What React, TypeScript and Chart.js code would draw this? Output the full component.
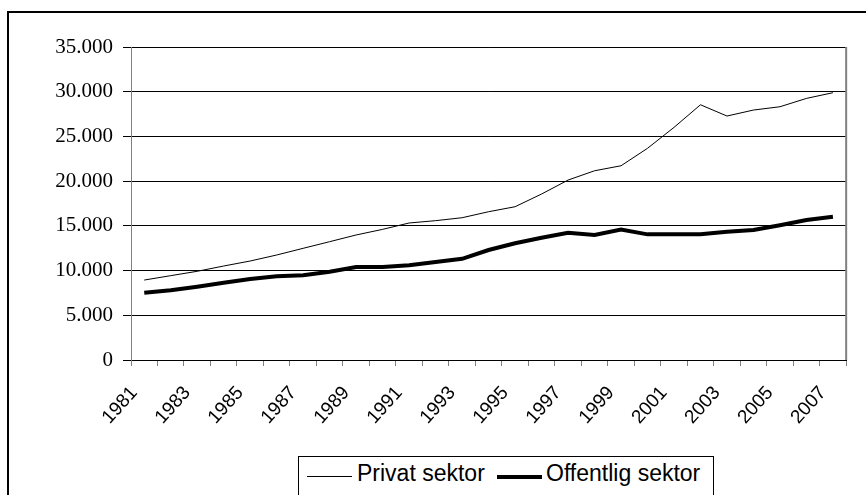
import { useEffect, useRef } from 'react';
import { Chart, registerables } from 'chart.js';

Chart.register(...registerables);

const years = [
  '1981', '1982', '1983', '1984', '1985', '1986', '1987', '1988', '1989', '1990',
  '1991', '1992', '1993', '1994', '1995', '1996', '1997', '1998', '1999', '2000',
  '2001', '2002', '2003', '2004', '2005', '2006', '2007',
];

const privatSektor = [
  8940, 9430, 9920, 10510, 11070, 11740, 12490, 13230, 13980, 14610,
  15320, 15580, 15910, 16580, 17140, 18560, 20120, 21160, 21720, 23670,
  26010, 28540, 27280, 27950, 28320, 29250, 29890,
];

const offentligSektor = [
  7530, 7790, 8200, 8640, 9060, 9360, 9470, 9870, 10400, 10400,
  10590, 10960, 11310, 12300, 13050, 13670, 14230, 13980, 14580, 14050,
  14050, 14050, 14340, 14530, 15060, 15650, 16020,
];

const yTickLabels = ['0', '5.000', '10.000', '15.000', '20.000', '25.000', '30.000', '35.000'];

const seriesNames = ['Privat sektor', 'Offentlig sektor'];

const plotBorder = {
  id: 'plotBorder',
  beforeDatasetsDraw(chart: any) {
    const { ctx, chartArea } = chart;
    ctx.save();
    ctx.strokeStyle = '#808080';
    ctx.lineWidth = 2;
    ctx.beginPath();
    ctx.moveTo(chartArea.right, chartArea.top);
    ctx.lineTo(chartArea.right, chartArea.bottom);
    ctx.stroke();
    ctx.restore();
  },
};

export default function App() {
  const ref = useRef<HTMLCanvasElement>(null);

  useEffect(() => {
    const chart = new Chart(ref.current as HTMLCanvasElement, {
      type: 'line',
      data: {
        labels: years,
        datasets: [
          {
            label: seriesNames[0],
            data: privatSektor,
            borderColor: '#000',
            borderWidth: 1,
            pointRadius: 0,
            tension: 0,
            fill: false,
          },
          {
            label: seriesNames[1],
            data: offentligSektor,
            borderColor: '#000',
            borderWidth: 4,
            pointRadius: 0,
            tension: 0,
            fill: false,
          },
        ],
      },
      options: {
        animation: false,
        responsive: false,
        layout: { padding: { top: 47, right: 7, left: 0, bottom: 0 } },
        plugins: { legend: { display: false }, tooltip: { enabled: false } },
        scales: {
          x: {
            type: 'category',
            offset: true,
            grid: { offset: true, drawOnChartArea: false, color: '#808080', tickLength: 6 },
            border: { color: '#000', width: 1 },
            ticks: {
              autoSkip: false,
              maxRotation: 48,
              minRotation: 48,
              padding: 16,
              labelOffset: -10,
              color: '#000',
              font: { family: '"Liberation Sans", Arial, sans-serif', size: 19 },
              callback: (_v: any, i: number) => (i % 2 === 0 ? years[i] : ''),
            },
            afterFit: (s: any) => {
              s.height = 135;
            },
          },
          y: {
            min: 0,
            max: 35000,
            ticks: {
              stepSize: 5000,
              padding: 10,
              color: '#000',
              font: { family: '"Liberation Serif", "Times New Roman", serif', size: 21 },
              callback: (_v: any, i: number) => yTickLabels[i],
            },
            grid: { color: '#000', tickLength: 8 },
            border: { color: '#808080', width: 1 },
            afterFit: (s: any) => {
              s.width = 131;
            },
          },
        },
      },
      plugins: [plotBorder],
    });
    return () => chart.destroy();
  }, []);

  const legendFont = '"Liberation Sans", Arial, sans-serif';

  return (
    <div
      style={{
        position: 'fixed',
        left: 0,
        top: 0,
        width: 866,
        height: 495,
        overflow: 'hidden',
        background: '#fff',
      }}
    >
      <div
        style={{
          position: 'absolute',
          left: 7,
          top: 11,
          width: 1000,
          height: 1000,
          border: '2px solid #000',
        }}
      />
      <canvas
        ref={ref}
        width={866}
        height={495}
        style={{ position: 'absolute', left: 0, top: 0, width: 866, height: 495 }}
      />
      <div
        style={{
          position: 'absolute',
          left: 298,
          top: 456,
          width: 414,
          height: 100,
          border: '1px solid #000',
          background: '#fff',
        }}
      />
      <div style={{ position: 'absolute', left: 307, top: 476, width: 45, height: 1, background: '#000' }} />
      <div
        style={{
          position: 'absolute',
          left: 357,
          top: 462,
          fontFamily: legendFont,
          fontSize: 23,
          lineHeight: '23px',
          whiteSpace: 'nowrap',
          color: '#000',
        }}
      >
        {seriesNames[0]}
      </div>
      <div style={{ position: 'absolute', left: 497, top: 475, width: 45, height: 4, background: '#000' }} />
      <div
        style={{
          position: 'absolute',
          left: 546,
          top: 462,
          fontFamily: legendFont,
          fontSize: 23,
          lineHeight: '23px',
          whiteSpace: 'nowrap',
          color: '#000',
        }}
      >
        {seriesNames[1]}
      </div>
    </div>
  );
}
